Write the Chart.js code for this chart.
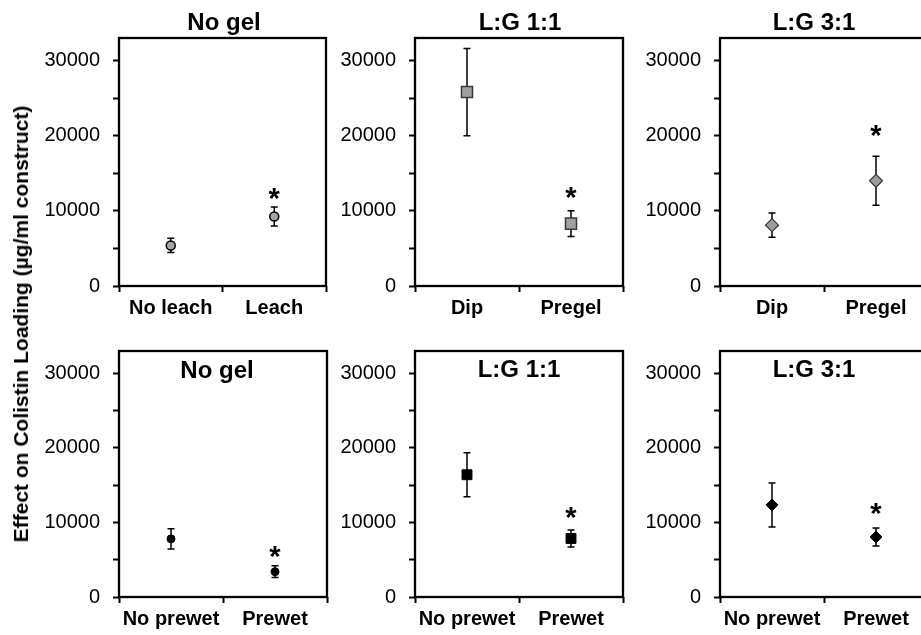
<!DOCTYPE html>
<html>
<head>
<meta charset="utf-8">
<script src="https://cdn.jsdelivr.net/npm/chart.js@4/dist/chart.umd.min.js"></script>
<style>
  html, body { margin: 0; padding: 0; background: #fff; }
  #wrap { position: relative; width: 921px; height: 635px; overflow: hidden; background: #fff; }
  #wrap canvas { position: absolute; left: 0; top: 0; }
  #ytitle {
    position: absolute; left: 21px; top: 324px; z-index: 5;
    transform: translate(-50%, -50%) rotate(-90deg);
    white-space: nowrap; font: bold 21px "Liberation Sans", Arial, sans-serif; color: #000;
  }
</style>
</head>
<body>
<div id="wrap">
  <div id="ytitle">Effect on Colistin Loading (µg/ml construct)</div>
</div>
<script>
// categories
const leachLabels = ['No leach', 'Leach'];
const dipLabels = ['Dip', 'Pregel'];
const prewetLabels = ['No prewet', 'Prewet'];
const panelTitles = ['No gel', 'L:G 1:1', 'L:G 3:1', 'No gel', 'L:G 1:1', 'L:G 3:1'];

// means and error bars (µg/ml construct)
const noGelLeach = [5400, 9250];
const noGelLeachErr = [950, 1250];
const lg11Dip = [25800, 8300];
const lg11DipErr = [5800, 1700];
const lg31Dip = [8100, 14000];
const lg31DipErr = [1600, 3250];
const noGelPrewet = [7800, 3400];
const noGelPrewetErr = [1350, 800];
const lg11Prewet = [16400, 7850];
const lg11PrewetErr = [2950, 1150];
const lg31Prewet = [12350, 8050];
const lg31PrewetErr = [2950, 1200];

// height of the significance star over the second group of each panel
const starHeights = [12600, 12700, 20900, 6300, 11600, 12100];

// y axis
const yTickValues = [0, 5000, 10000, 15000, 20000, 25000, 30000];
const yMax = 33000;

const FONT = '"Liberation Sans", Arial, sans-serif';
const CW = 940, CH = 635;
const Y_AXIS_W = 80, X_AXIS_H = 40;

const gray = { fill: '#a6a6a6', line: '#3a3a3a' };
const panels = [
    { labels: leachLabels, means: noGelLeach, errs: noGelLeachErr, box: [119, 38, 326, 286], titleX: 224, titleY: 30,
      point: 'circle', r: 4.5, fill: gray.fill, stroke: '#000', bw: 1.5 },
    { labels: dipLabels, means: lg11Dip, errs: lg11DipErr, box: [415, 38, 623, 286], titleX: 520, titleY: 30,
      point: 'rect', r: 7.8, fill: '#a0a0a0', stroke: gray.line, bw: 1.5 },
    { labels: dipLabels, means: lg31Dip, errs: lg31DipErr, box: [720, 38, 928, 286], titleX: 814, titleY: 30,
      point: 'rectRot', r: 6.5, fill: '#9d9d9d', stroke: gray.line, bw: 1.2 },
    { labels: prewetLabels, means: noGelPrewet, errs: noGelPrewetErr, box: [119, 351, 327, 597], titleX: 217, titleY: 378,
      point: 'circle', r: 4, fill: '#000', stroke: '#000', bw: 1 },
    { labels: prewetLabels, means: lg11Prewet, errs: lg11PrewetErr, box: [415, 351, 623, 597], titleX: 519, titleY: 377,
      point: 'rect', r: 7, fill: '#000', stroke: '#000', bw: 1 },
    { labels: prewetLabels, means: lg31Prewet, errs: lg31PrewetErr, box: [720, 351, 928, 597], titleX: 814, titleY: 377,
      point: 'rectRot', r: 6, fill: '#000', stroke: '#000', bw: 1 }
];

const errorBars = {
    id: 'errorBars',
    beforeDatasetsDraw(chart) {
        const p = chart.options.plugins.errorBars;
        const ctx = chart.ctx;
        const x = chart.scales.x, y = chart.scales.y;
        ctx.save();
        ctx.strokeStyle = '#000';
        ctx.lineWidth = 1.5;
        p.means.forEach((m, i) => {
            const px = x.getPixelForValue(i);
            const top = y.getPixelForValue(m + p.errs[i]);
            const bot = y.getPixelForValue(m - p.errs[i]);
            ctx.beginPath();
            ctx.moveTo(px, top); ctx.lineTo(px, bot);
            ctx.moveTo(px - 3.5, top); ctx.lineTo(px + 3.5, top);
            ctx.moveTo(px - 3.5, bot); ctx.lineTo(px + 3.5, bot);
            ctx.stroke();
        });
        ctx.restore();
    }
};

const frame = {
    id: 'frame',
    afterDraw(chart) {
        const p = chart.options.plugins.frame;
        const a = chart.chartArea;
        const ctx = chart.ctx;
        ctx.save();
        ctx.strokeStyle = '#000';
        ctx.lineWidth = 2.3;
        ctx.strokeRect(a.left, a.top, a.right - a.left, a.bottom - a.top);
        // title
        ctx.fillStyle = '#000';
        ctx.textAlign = 'center';
        ctx.textBaseline = 'alphabetic';
        ctx.font = 'bold 24px ' + FONT;
        ctx.fillText(p.title, p.titleX, p.titleY);
        // significance star
        const size = 29;
        ctx.font = 'bold ' + size + 'px ' + FONT;
        const sx = chart.scales.x.getPixelForValue(1);
        const sy = chart.scales.y.getPixelForValue(p.star);
        ctx.fillText('*', sx, sy + 0.56 * size);
        ctx.restore();
    }
};

const wrap = document.getElementById('wrap');

panels.forEach((pn, k) => {
    const canvas = document.createElement('canvas');
    canvas.width = CW;
    canvas.height = CH;
    wrap.appendChild(canvas);

    new Chart(canvas.getContext('2d'), {
        type: 'line',
        data: {
            labels: pn.labels,
            datasets: [{
                data: pn.means,
                showLine: false,
                pointStyle: pn.point,
                pointRadius: pn.r,
                pointBackgroundColor: pn.fill,
                pointBorderColor: pn.stroke,
                pointBorderWidth: pn.bw
            }]
        },
        options: {
            responsive: false,
            animation: false,
            devicePixelRatio: 1,
            layout: {
                padding: {
                    left: pn.box[0] - Y_AXIS_W,
                    top: pn.box[1],
                    right: CW - pn.box[2],
                    bottom: CH - pn.box[3] - X_AXIS_H
                }
            },
            scales: {
                x: {
                    type: 'category',
                    offset: true,
                    border: { display: false },
                    grid: { offset: true, drawOnChartArea: false, drawTicks: true, tickLength: 6, tickColor: '#000', tickWidth: 2 },
                    ticks: { color: '#000', font: { family: FONT, size: 20, weight: 'bold' }, padding: 4, maxRotation: 0, autoSkip: false },
                    afterFit(s) { s.height = X_AXIS_H; }
                },
                y: {
                    min: 0,
                    max: yMax,
                    border: { display: false },
                    grid: { drawOnChartArea: false, drawTicks: true, tickLength: 6, tickColor: '#000', tickWidth: 2 },
                    ticks: {
                        color: '#000',
                        font: { family: FONT, size: 20 },
                        padding: 13,
                        callback: v => (v % 10000 === 0 ? String(v) : '')
                    },
                    afterBuildTicks(s) { s.ticks = yTickValues.map(v => ({ value: v })); },
                    afterFit(s) { s.width = Y_AXIS_W; }
                }
            },
            plugins: {
                legend: { display: false },
                tooltip: { enabled: false },
                title: { display: false },
                errorBars: { means: pn.means, errs: pn.errs },
                frame: { title: panelTitles[k], titleX: pn.titleX, titleY: pn.titleY, star: starHeights[k] }
            }
        },
        plugins: [errorBars, frame]
    });
});
</script>
</body>
</html>
